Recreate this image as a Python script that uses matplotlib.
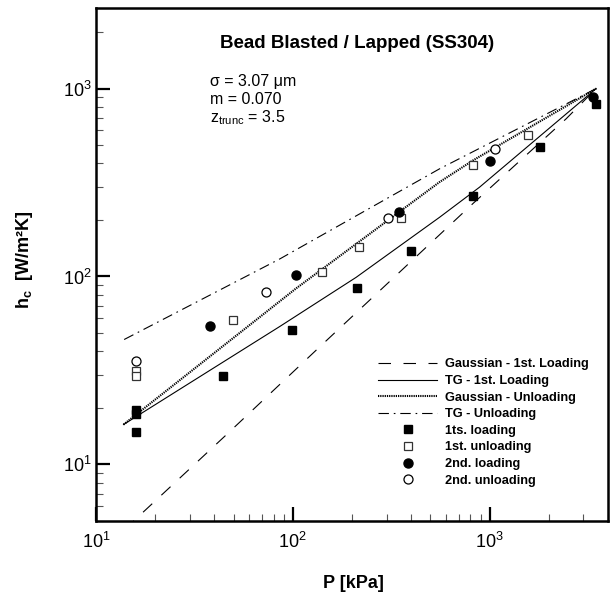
import matplotlib
matplotlib.use('Agg')
import matplotlib.pyplot as plt
from matplotlib.ticker import LogLocator, NullFormatter

plt.rcParams['font.family'] = ['Liberation Sans', 'DejaVu Sans']
plt.rcParams['mathtext.fontset'] = 'custom'
plt.rcParams['mathtext.rm'] = 'Liberation Sans'
plt.rcParams['mathtext.it'] = 'Liberation Sans:italic'
plt.rcParams['mathtext.bf'] = 'Liberation Sans:bold'
plt.rcParams['lines.scale_dashes'] = False

# ---- model curves ----
gauss_load_P = [14, 45.7, 132, 822, 2449, 3483]
gauss_load_h = [4.52, 14.3, 40.7, 244, 690, 1000]
tg_load_P = [13.8, 85.9, 210, 557, 889, 3483]
tg_load_h = [16.3, 54.2, 99, 206.5, 298.5, 1000]
gauss_unload_P = [13.8, 103.5, 557, 822, 3483]
gauss_unload_h = [16.3, 86.1, 318, 414, 1000]
tg_unload_P = [13.9, 85.9, 557, 3483]
tg_unload_h = [46.2, 124, 374, 1000]

# ---- experimental data ----
load1_P = [16, 16, 16, 44, 99.5, 213, 400, 822, 1795, 3484]
load1_h = [19.6, 18.5, 14.9, 29.5, 51.6, 86.7, 136.5, 267, 487, 830]
unload1_P = [16, 16, 49.5, 141.6, 217, 356, 822, 1563]
unload1_h = [31.3, 29.4, 59, 106, 143, 206, 391, 569]
load2_P = [38, 103.5, 345, 1000, 3373]
load2_h = [54.8, 102, 220, 414, 899]
unload2_P = [16, 73, 305, 1060]
unload2_h = [35.4, 82.6, 206, 477]

W, H = 610, 592
fig = plt.figure(figsize=(W / 100, H / 100), dpi=100)
ax = fig.add_axes([96 / W, 1 - 521 / H, (608 - 96) / W, (521 - 7.5) / H])

ax.plot(gauss_load_P, gauss_load_h, color='black', lw=0.8, dashes=(9, 9),
        label='Gaussian - 1st. Loading')
ax.plot(tg_load_P, tg_load_h, color='black', lw=0.8, ls='-',
        label='TG - 1st. Loading')
ax.plot(gauss_unload_P, gauss_unload_h, color='black', lw=1.5, dashes=(0.9, 0.7),
        label='Gaussian - Unloading')
ax.plot(tg_unload_P, tg_unload_h, color='black', lw=0.8, dashes=(7.5, 3.5, 1.2, 3.5),
        label='TG - Unloading')

ms = 6
ax.plot(load1_P, load1_h, ls='none', marker='s', ms=ms, mfc='black', mec='black',
        label='1ts. loading')
ax.plot(unload1_P, unload1_h, ls='none', marker='s', ms=ms, mfc='white', mec='#333333',
        mew=0.9, label='1st. unloading')
ax.plot(load2_P, load2_h, ls='none', marker='o', ms=ms + 0.5, mfc='black', mec='black',
        label='2nd. loading')
ax.plot(unload2_P, unload2_h, ls='none', marker='o', ms=ms + 0.5, mfc='white', mec='black',
        mew=0.9, label='2nd. unloading')

ax.set_xscale('log')
ax.set_yscale('log')
ax.set_xlim(10, 4000)
ax.set_ylim(5, 2700)

for axis in (ax.xaxis, ax.yaxis):
    axis.set_major_locator(LogLocator(base=10, numticks=10))
    axis.set_minor_locator(LogLocator(base=10, subs=range(2, 10), numticks=20))
    axis.set_minor_formatter(NullFormatter())

for s in ax.spines.values():
    s.set_linewidth(1.8)

ax.tick_params(which='major', direction='in', length=10, width=1.6, labelsize=13,
               top=False, right=False)
ax.tick_params(which='minor', direction='in', length=5, width=0.8, color='#555555',
               top=False, right=False)
ax.tick_params(axis='x', which='major', pad=8)
ax.tick_params(axis='y', which='major', pad=3)

leg = ax.legend(loc='upper left', bbox_to_anchor=(372 / W, 1 - 352 / H),
                bbox_transform=fig.transFigure, frameon=False, borderpad=0,
                handlelength=4.6, handletextpad=0.65, labelspacing=0.36,
                numpoints=1, prop={'weight': 'bold', 'size': 9.2})

fig.text(357 / W, 1 - 48 / H, 'Bead Blasted / Lapped (SS304)', ha='center',
         va='baseline', fontsize=13.5, fontweight='bold')
fig.text(210 / W, 1 - 86 / H, 'σ = 3.07 μm', ha='left', va='baseline', fontsize=11.5)
fig.text(210 / W, 1 - 104 / H, 'm = 0.070', ha='left', va='baseline', fontsize=11.5)
fig.text(210 / W, 1 - 122.5 / H, r'z$_{\mathrm{trunc}}$ = 3.5', ha='left', va='baseline',
         fontsize=11.5)

fig.text(353 / W, 1 - 588 / H, 'P [kPa]', ha='center', va='baseline', fontsize=13,
         fontweight='bold')
fig.text(25 / W, 1 - 260 / H, r'h$_\mathbf{c}$  [W/m²K]', ha='center', va='center',
         rotation=90, fontsize=13, fontweight='bold')

fig.savefig('out.png', dpi=100)
